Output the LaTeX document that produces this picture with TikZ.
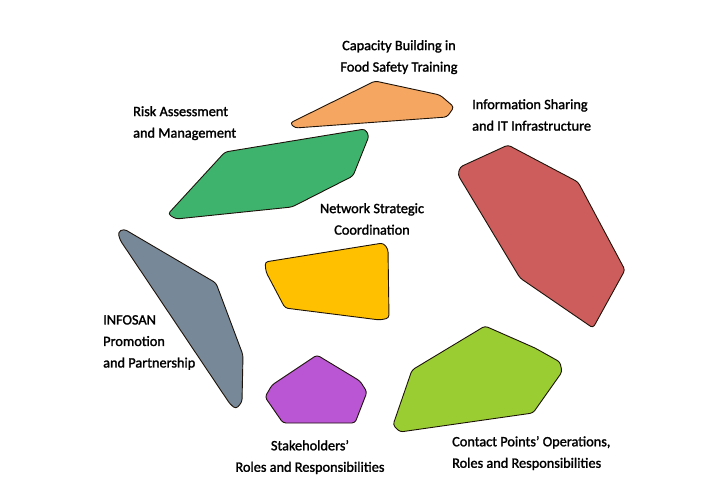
\documentclass[tikz,border=0pt]{standalone}
\usepackage{fontspec}
\setmainfont{Carlito}
\newfontfamily\lblfont[FakeBold=1.6]{Carlito}
\begin{document}
\begin{tikzpicture}[x=1pt,y=-1pt,
  blob/.style={draw=black!85!brown, line width=0.9pt, rounded corners=3pt, line join=round},
  lbl/.style={font=\lblfont\fontsize{14.3}{21.5}\selectfont, inner sep=0pt, text=black},
  lblL/.style={lbl, align=left, anchor=north west},
  lblC/.style={lbl, align=center, anchor=north}]
\useasboundingbox (0,0) rectangle (707,495);
% shapes
\path[blob, fill={rgb,255:red,245;green,166;blue,96}]
  (290,123) -- (375,81) -- (440,95) -- (454,107) -- (447,117) -- (295,128) -- cycle;
\path[blob, fill={rgb,255:red,61;green,179;blue,110}]
  (168,214) -- (225,152) -- (365,129) -- (369,136) -- (353,176) -- (292,207) -- (176,219) -- cycle;
\path[blob, fill={rgb,255:red,205;green,92;blue,92}]
  (460,167) -- (508,145) -- (578,182) -- (625,270) -- (593,328) -- (520,278) -- (458,175) -- cycle;
\path[blob, fill={rgb,255:red,255;green,192;blue,0}]
  (265,262) -- (383,243) -- (388,249) -- (389,318) -- (380,320) -- (285,308) -- (266,272) -- cycle;
\path[blob, fill={rgb,255:red,119;green,136;blue,153}]
  (118,232) -- (124,229) -- (216,283) -- (243,355) -- (242,402) -- (236,409) -- (230,404) -- (120,240) -- cycle;
\path[blob, fill={rgb,255:red,186;green,85;blue,211}]
  (317,355) -- (360,381) -- (367,392) -- (355,423) -- (283,423) -- (265,397) -- (272,385) -- cycle;
\path[blob, fill={rgb,255:red,154;green,205;blue,50}]
  (412,370) -- (485,326) -- (535,348) -- (560,362) -- (562,372) -- (533,413) -- (400,432) -- (393,425) -- cycle;
% labels
\node[lblC] (cap) at (399,40) {Capacity Building in\\Food Safety Training};
\node[lblL] (risk) at (133,106) {Risk Assessment\\and Management};
\node[lblL] (info) at (472,99) {Information Sharing\\and IT Infrastructure};
\node[lblC] (net) at (372,203) {Network Strategic\\Coordination};
\node[lblL] (infosan) at (103,315) {INFOSAN\\Promotion\\and Partnership};
\node[lblC] (stake) at (310,440) {Stakeholders’\\Roles and Responsibilities};
\node[lblL] (contact) at (452,436) {Contact Points’ Operations,\\Roles and Responsibilities};
\end{tikzpicture}
\end{document}
